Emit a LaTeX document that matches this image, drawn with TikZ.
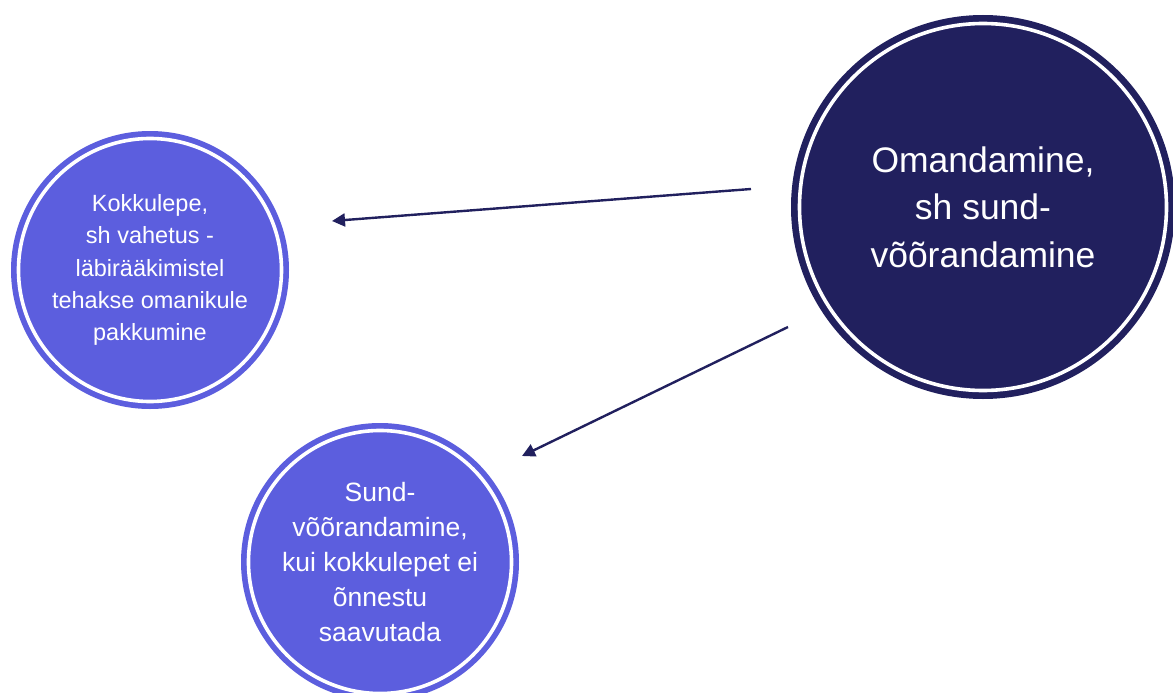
\documentclass[tikz,border=0pt]{standalone}
\usepackage{fontspec}
\setmainfont{Liberation Sans}
\usetikzlibrary{arrows.meta}
\definecolor{navy}{RGB}{33,32,94}
\definecolor{lilac}{RGB}{92,94,222}
\begin{document}
\begin{tikzpicture}[x=1pt,y=-1pt,
  bigc/.style={circle, fill=navy, inner sep=0pt, minimum size=384pt, text=white, align=center,
    font=\fontsize{35.5}{47.5}\selectfont},
  smallc/.style={circle, fill=lilac, inner sep=0pt, minimum size=278pt, text=white, align=center},
  ring/.style={draw=white, line width=3.6pt},
  conn/.style={draw=navy, line width=2.4pt, -{Triangle[length=13pt,width=13pt]}}
]
\useasboundingbox (0,0) rectangle (1173,693);
\fill[white] (0,0) rectangle (1173,693);

\node[bigc] (big) at (983,207) {Omandamine,\\sh sund-\\võõrandamine};
\draw[ring] (big.center) circle[radius=183.5pt];

\node[smallc, font=\fontsize{23.5}{32.2}\selectfont] (left) at (150,270)
  {Kokkulepe,\\sh vahetus -\\läbirääkimistel\\tehakse omanikule\\pakkumine};
\draw[ring] (left.center) circle[radius=131.5pt];

\node[smallc, font=\fontsize{26.5}{34.8}\selectfont] (bottom) at (380,562)
  {Sund-\\võõrandamine,\\kui kokkulepet ei\\õnnestu\\saavutada};
\draw[ring] (bottom.center) circle[radius=131.5pt];

\coordinate (a1s) at (751,189);
\coordinate (a1e) at (332,221);
\coordinate (a2s) at (788,327);
\coordinate (a2e) at (522,456);
\draw[conn] (a1s) -- (a1e);
\draw[conn] (a2s) -- (a2e);
\end{tikzpicture}
\end{document}
